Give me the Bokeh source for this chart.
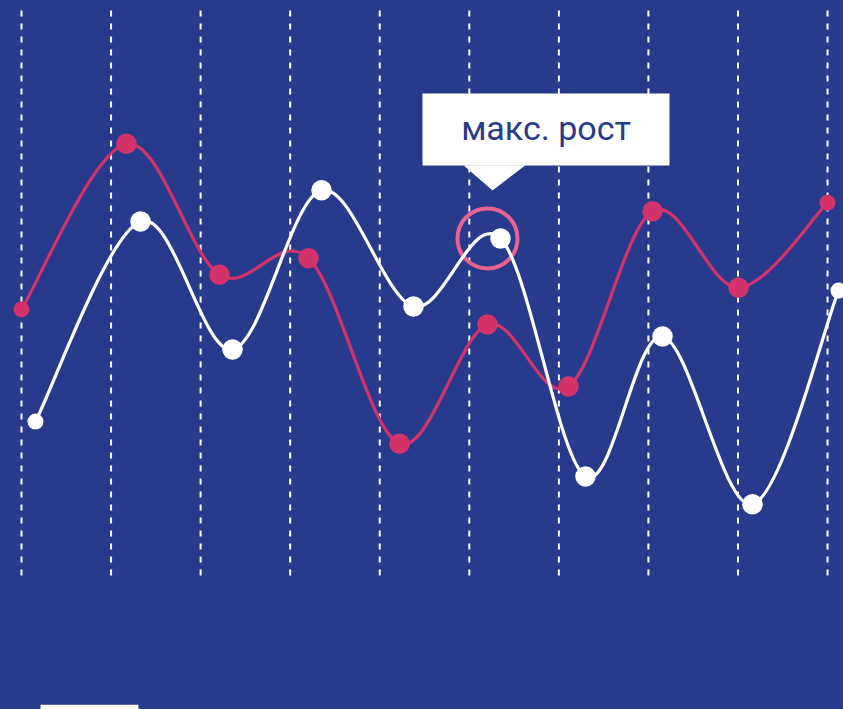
from bokeh.plotting import figure
from bokeh.models import ColumnDataSource
from bokeh.core.properties import value
from bokeh.embed import file_html
from bokeh.resources import INLINE

# --- data -------------------------------------------------------------
periods = list(range(10))  # vertical guide positions

red_x = [0.0, 1.172, 2.211, 3.205, 4.221, 5.203, 6.108, 7.046, 8.006, 9.0]
red_y = [47.3, 76.5, 53.4, 56.3, 23.6, 44.6, 33.7, 64.6, 51.1, 66.1]

white_x = [0.156, 1.329, 2.356, 3.350, 4.377, 5.348, 6.297, 7.157, 8.162, 9.122]
white_y = [27.5, 62.8, 40.2, 68.3, 47.8, 59.8, 17.8, 42.5, 12.9, 50.6]

callout_text = "макс. рост"
highlight_index = 5

# --- styling ----------------------------------------------------------
BG = "#283a8c"
RED = "#d3336a"
RING = "#ea6390"
WHITE = "#ffffff"


def catmull_rom(xs, ys):
    """Bezier segments of a uniform Catmull-Rom spline through the points."""
    n = len(xs)
    px = [xs[0]] + list(xs) + [xs[-1]]
    py = [ys[0]] + list(ys) + [ys[-1]]
    seg = dict(x0=[], y0=[], x1=[], y1=[], cx0=[], cy0=[], cx1=[], cy1=[])
    for i in range(1, n):
        seg["x0"].append(px[i]); seg["y0"].append(py[i])
        seg["x1"].append(px[i + 1]); seg["y1"].append(py[i + 1])
        seg["cx0"].append(px[i] + (px[i + 1] - px[i - 1]) / 6)
        seg["cy0"].append(py[i] + (py[i + 1] - py[i - 1]) / 6)
        seg["cx1"].append(px[i + 1] - (px[i + 2] - px[i]) / 6)
        seg["cy1"].append(py[i + 1] - (py[i + 2] - py[i]) / 6)
    return ColumnDataSource(seg)


def marker_sizes(n, inner=20.5, edge=16):
    return [edge] + [inner] * (n - 2) + [edge]


# one spare pixel on every side, pulled back with a negative margin,
# so the canvas edge stays outside the visible page
DX = 0.011165
DY = 0.17636
p = figure(
    width=845, height=711,
    x_range=(-0.2345 - DX, 9.178 + DX), y_range=(-23.28 - DY, 101.76 + DY),
    output_backend="svg", toolbar_location=None,
    x_axis_location=None, y_axis_location=None,
    min_border=0, outline_line_color=None,
    styles={"margin-left": "-1px", "margin-top": "-1px"},
)
p.background_fill_color = BG
p.border_fill_color = BG
p.grid.visible = False

# dashed vertical guides
p.segment(x0=periods, y0=[100] * 10, x1=periods, y1=[0] * 10,
          line_color=WHITE, line_width=2, line_dash="6 7")

# red series
p.bezier(x0="x0", y0="y0", x1="x1", y1="y1", cx0="cx0", cy0="cy0",
         cx1="cx1", cy1="cy1", source=catmull_rom(red_x, red_y),
         line_color=RED, line_width=3.2, line_cap="round")
p.scatter(red_x, red_y, size=marker_sizes(len(red_x)),
          fill_color=RED, line_color=None)

# highlight ring around the marked point
hx = red_x[highlight_index]
hy = white_y[highlight_index]
p.scatter([hx], [hy], size=60, fill_color=None,
          line_color=RING, line_width=4)

# white series
p.bezier(x0="x0", y0="y0", x1="x1", y1="y1", cx0="cx0", cy0="cy0",
         cx1="cx1", cy1="cy1", source=catmull_rom(white_x, white_y),
         line_color=WHITE, line_width=3.2, line_cap="round")
p.scatter(white_x, white_y, size=marker_sizes(len(white_x)),
          fill_color=WHITE, line_color=None)

# callout box with pointer
box_left, box_right = hx - 0.726, hx + 2.032
box_bottom, box_top = hy + 12.86, hy + 25.56
p.quad(left=[box_left], right=[box_right], bottom=[box_bottom], top=[box_top],
       fill_color=WHITE, line_color=None)
p.patch([hx - 0.268, hx + 0.424, hx + 0.056],
        [box_bottom + 0.05, box_bottom + 0.05, hy + 8.45],
        fill_color=WHITE, line_color=None)
p.text([(box_left + box_right) / 2], [(box_bottom + box_top) / 2 + 0.3],
       text=[callout_text], text_font=value("Roboto"), text_font_size="34px",
       text_color=BG, text_align="center", text_baseline="middle")

# legend swatch at the bottom edge
p.quad(left=[0.212], right=[1.306], bottom=[-24.5], top=[-22.45],
       fill_color=WHITE, line_color=None)

html = file_html(p, INLINE)
html = html.replace("<body>", f'<body style="margin:0;background:{BG};overflow:hidden">', 1)
open("out.html", "w").write(html)
